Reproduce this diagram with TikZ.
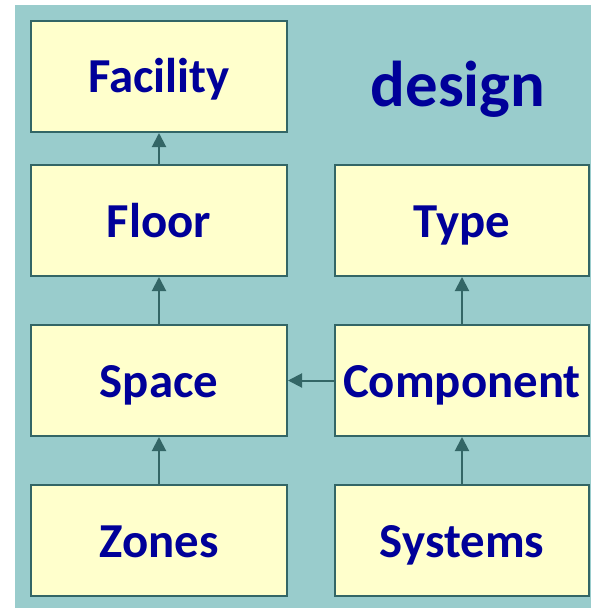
\documentclass[tikz,border=0pt]{standalone}
\usepackage{fontspec}
\setmainfont{Carlito}
\usetikzlibrary{arrows.meta}
\definecolor{bgteal}{HTML}{99CCCC}
\definecolor{boxfill}{HTML}{FFFFCC}
\definecolor{edge}{HTML}{336666}
\definecolor{txt}{HTML}{000099}
\begin{document}
\begin{tikzpicture}[x=1bp,y=-1bp,
  box/.style={draw=edge, fill=boxfill, line width=2bp, minimum width=256bp, minimum height=111bp, inner sep=0pt,
    font=\fontsize{49}{52}\selectfont\bfseries, text=txt, text height=33bp, text depth=0pt},
  conn/.style={draw=edge, line width=2bp, -{Triangle[length=14bp,width=14bp]}}]
\useasboundingbox (0,0) rectangle (591,608);
\fill[bgteal] (15,5) rectangle (591,608);
\node[box] (facility) at (159,76.5) {Facility};
\node[box] (floor) at (159,220.5) {Floor};
\node[box] (space) at (159,380.5) {Space};
\node[box] (zones) at (159,540.5) {Zones};
\node[box, minimum width=254bp] (type) at (462,220.5) {Type};
\node[box, minimum width=254bp] (component) at (462,380.5) {Component};
\node[box, minimum width=254bp] (systems) at (462,540.5) {Systems};
\node[font=\fontsize{65}{68}\selectfont\bfseries, text=txt, anchor=base, inner sep=0pt] (design) at (458,107) {design};
\draw[conn] (floor) -- (facility);
\draw[conn] (space) -- (floor);
\draw[conn] (zones) -- (space);
\draw[conn] (component) -- (space);
\draw[conn] (component) -- (type);
\draw[conn] (systems) -- (component);
\end{tikzpicture}
\end{document}
